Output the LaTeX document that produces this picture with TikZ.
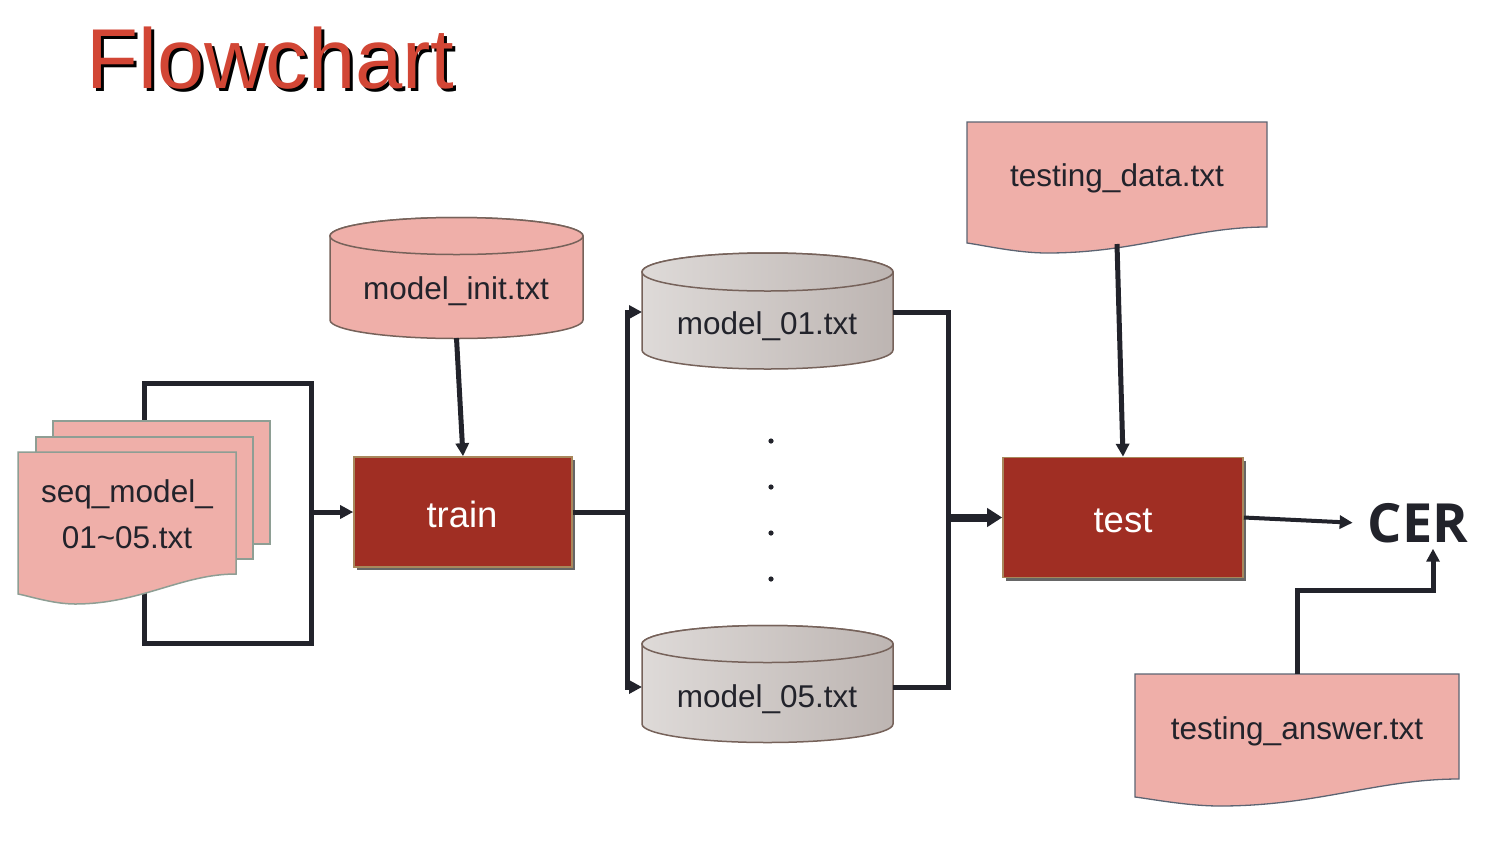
\documentclass[tikz,border=0pt]{standalone}
\usepackage{fontspec}
\setmainfont{Liberation Sans}
\newfontfamily\cerfont{Open Sans}
\usetikzlibrary{arrows.meta,shadows}

\definecolor{ink}{HTML}{22232B}
\definecolor{pinkfill}{HTML}{EFAFA9}
\definecolor{docedge}{HTML}{8E9E94}
\definecolor{docedgeb}{HTML}{5C6472}
\definecolor{cyledge}{HTML}{76625A}
\definecolor{procfill}{HTML}{A02E23}
\definecolor{procedge}{HTML}{A8885C}
\definecolor{titlered}{HTML}{D24635}
\definecolor{grayL}{HTML}{DEDAD8}
\definecolor{grayR}{HTML}{BDB5B2}

% wavy-bottom document: style, x1, x2, top, yLeft, yRight, xMin, yMin
\newcommand\wavedoc[8]{%
  \path[#1] (#2,#4) -- (#3,#4) -- (#3,#6)
    .. controls ({#3-0.25*(#3-#2)},#6) and ({#7+0.3*(#3-#2)},#8) .. (#7,#8)
    .. controls ({#7-0.1*(#3-#2)},#8) and ({#2+0.05*(#3-#2)},{#5+2}) .. (#2,#5) -- cycle;}

% cylinder: style, x1, x2, top-centre y, bottom-centre y, ry
\newcommand\cylshape[6]{%
  \path[#1] (#2,#4) -- (#2,#5)
    arc[start angle=180,end angle=0,x radius={(#3-#2)/2},y radius=#6]
    -- (#3,#4)
    arc[start angle=0,end angle=-180,x radius={(#3-#2)/2},y radius=#6] -- cycle;
  \path[#1] ({(#2+#3)/2},#4) ellipse[x radius={(#3-#2)/2},y radius=#6];}

\begin{document}
\begin{tikzpicture}[x=1pt,y=-1pt,
  txt/.style={font=\fontsize{31.5}{36}\selectfont, text=ink, inner sep=0pt, anchor=base},
  ptxt/.style={font=\fontsize{36.5}{40}\selectfont, text=white, inner sep=0pt, anchor=base},
  conn/.style={draw=ink, line width=5pt},
  arr/.style={conn, -{Triangle[length=13pt,width=13pt]}},
  proc/.style={fill=procfill, draw=procedge, line width=1.6pt, inner sep=0pt,
    drop shadow={shadow xshift=3pt, shadow yshift=-3pt, fill=black!60, opacity=1}},
  geo/.style={inner sep=0pt, outer sep=0pt},
  pinkdoc/.style={fill=pinkfill, draw=docedge, line width=1.5pt},
  pinkdocb/.style={fill=pinkfill, draw=docedgeb, line width=1.3pt},
  pinkcyl/.style={fill=pinkfill, draw=cyledge, line width=1.5pt},
  graycyl/.style={left color=grayL, right color=grayR, draw=cyledge, line width=1.5pt}
]
\useasboundingbox (0,0) rectangle (1488,844);

% title
\node[anchor=base west, inner sep=0pt, font=\fontsize{85}{90}\selectfont, text=black] (titleshadow) at (89,91) {Flowchart};
\node[anchor=base west, inner sep=0pt, font=\fontsize{85}{90}\selectfont, text=titlered] (title) at (86,88) {Flowchart};

% loop around the stacked documents
\coordinate (loopTL) at (144.5,383);
\coordinate (loopBR) at (311.5,643);
\draw[conn] (loopTL) rectangle (loopBR);

% stacked seq documents
\path[pinkdoc] (53,421) rectangle (270,544);
\path[pinkdoc] (36,437) rectangle (253,559);
\wavedoc{pinkdoc}{18}{236}{452}{594}{574}{75}{604}
\node[geo, minimum width=218pt, minimum height=152pt] (seq) at (127,528) {};
\node[txt] (seqA) at (127,502) {seq\_model\_};
\node[txt] (seqB) at (127,548) {01\textasciitilde05.txt};

% train
\node[proc, minimum width=218pt, minimum height=110pt] (train) at (463,512) {};
\node[ptxt] (traintxt) at (462,527) {train};

% model_init
\cylshape{pinkcyl}{330}{583}{236}{320}{18.5}
\node[geo, minimum width=253pt, minimum height=121pt] (minit) at (456.5,277.5) {};
\node[txt] (minittxt) at (456,299) {model\_init.txt};

% model_01 / model_05
\cylshape{graycyl}{642}{893}{272}{350}{19}
\node[geo, minimum width=251pt, minimum height=116pt] (m01) at (767.5,312) {};
\node[txt] (m01txt) at (767,334) {model\_01.txt};
\cylshape{graycyl}{642}{893}{644}{724}{18.5}
\node[geo, minimum width=251pt, minimum height=118pt] (m05) at (767.5,687) {};
\node[txt] (m05txt) at (767,707) {model\_05.txt};

% dots
\foreach \yy in {441,487,533,579} \fill[ink] (771,\yy) circle[radius=2.6];

% test
\node[proc, minimum width=240pt, minimum height=120pt] (test) at (1123,517.5) {};
\node[ptxt] (testtxt) at (1123,532) {test};

% testing_data
\wavedoc{pinkdocb}{967}{1267}{122}{243}{227}{1047}{253}
\node[geo, minimum width=300pt, minimum height=131pt] (tdata) at (1117,187.5) {};
\node[txt] (tdatatxt) at (1117,186) {testing\_data.txt};
\coordinate (tdout) at (1117,244);

% testing_answer
\wavedoc{pinkdocb}{1135}{1459}{674}{797}{779}{1220}{806}
\node[geo, minimum width=324pt, minimum height=132pt] (tans) at (1297,740) {};
\node[txt] (tanstxt) at (1297,739) {testing\_answer.txt};

% CER
\node[inner sep=0pt, anchor=base, font=\cerfont\bfseries\fontsize{54}{60}\selectfont, text=ink] (cer) at (1418,542) {CER};

% connectors
\coordinate (jl) at (627,0);
\coordinate (jr) at (948,0);
\coordinate (ccorner) at (1433,590);

\draw[arr] (train.west -| loopBR) -- (train.west);
\draw[arr] (minit.south) -- (train.north);
\draw[conn] (train.east) -- (train.east -| jl);
\draw[arr] (train.east -| jl) |- (m01.west);
\draw[arr] (train.east -| jl) |- (m05.west);
\draw[conn] (m01.east) -| (jr |- m05.east) -- (m05.east);
\draw[conn, line width=8pt, -{Triangle[length=15pt,width=18pt]}] (test.west -| jr) -- (test.west);
\draw[arr] (tdout) -- (test.north);
\draw[draw=ink, line width=4pt, -{Triangle[length=13pt,width=13pt]}] (test.east) -- ([xshift=-15pt]cer.west);
\draw[arr] (tans.north) |- (ccorner) -- ([yshift=-6pt]ccorner |- cer.south);
\end{tikzpicture}
\end{document}
